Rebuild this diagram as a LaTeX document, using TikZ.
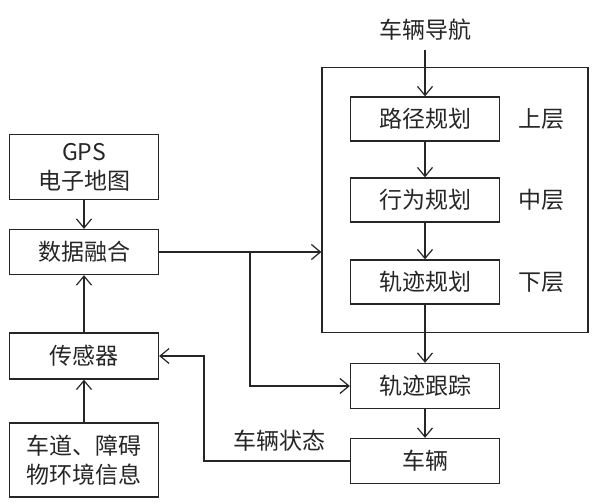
\documentclass[tikz,border=0pt]{standalone}
\usepackage{fontspec}
\newfontfamily\cjk{Noto Sans CJK SC}
\usetikzlibrary{arrows.meta}
\tikzset{
  box/.style={draw, minimum width=149pt, minimum height=45pt, inner sep=0pt},
  lbl/.style={inner sep=0pt},
}
\begin{document}
\begin{tikzpicture}[x=1pt, y=-1pt, line width=1.3pt, draw=black!85, text=black!85,
    font=\cjk\fontsize{23}{29}\selectfont,
    >={Straight Barb[length=9pt, width=15pt, line width=1.2pt]}]
    \useasboundingbox (0,0) rectangle (600,503);
    \node [box, minimum height=65pt, align=center] (gps) at (84,167) {GPS\\电子地图};
    \node [box] (fuse) at (84,252) {数据融合};
    \node [box, minimum height=46pt] (sensor) at (84,356) {传感器};
    \node [box, minimum height=74pt, align=center] (env) at (84,460) {车道、障碍\\物环境信息};

    \node [draw, minimum width=266pt, minimum height=265pt] (plan) at (455,200) {};
    \node [lbl] (nav) at (425,30) {车辆导航};
    \node [box, minimum height=44pt] (route) at (425,119) {路径规划};
    \node [box, minimum height=44pt] (behav) at (425,200) {行为规划};
    \node [box, minimum height=44pt] (traj) at (425,282) {轨迹规划};
    \node [lbl] (up) at (541,119) {上层};
    \node [lbl] (mid) at (541,200) {中层};
    \node [lbl] (low) at (541,282) {下层};

    \node [box] (track) at (425,386) {轨迹跟踪};
    \node [box] (car) at (425,461) {车辆};
    \node [lbl] (state) at (279,441) {车辆状态};

    \draw [->] (nav.south) ++(0,9) -- (route.north);
    \draw [->] (route) -- (behav);
    \draw [->] (behav) -- (traj);
    \draw [->] (traj) -- (track);
    \draw [->] (track) -- (car);

    \draw [->] (gps) -- (fuse);
    \draw [->] (sensor) -- (fuse);
    \draw [->] (env) -- (sensor);

    \coordinate (br) at (250,252);
    \draw [->] (fuse.east) -- (fuse.east -| plan.west);
    \draw [->] (br) |- (track.west);
    \draw [->] (car.west) -- ++(-146,0) |- (sensor.east);
\end{tikzpicture}
\end{document}
